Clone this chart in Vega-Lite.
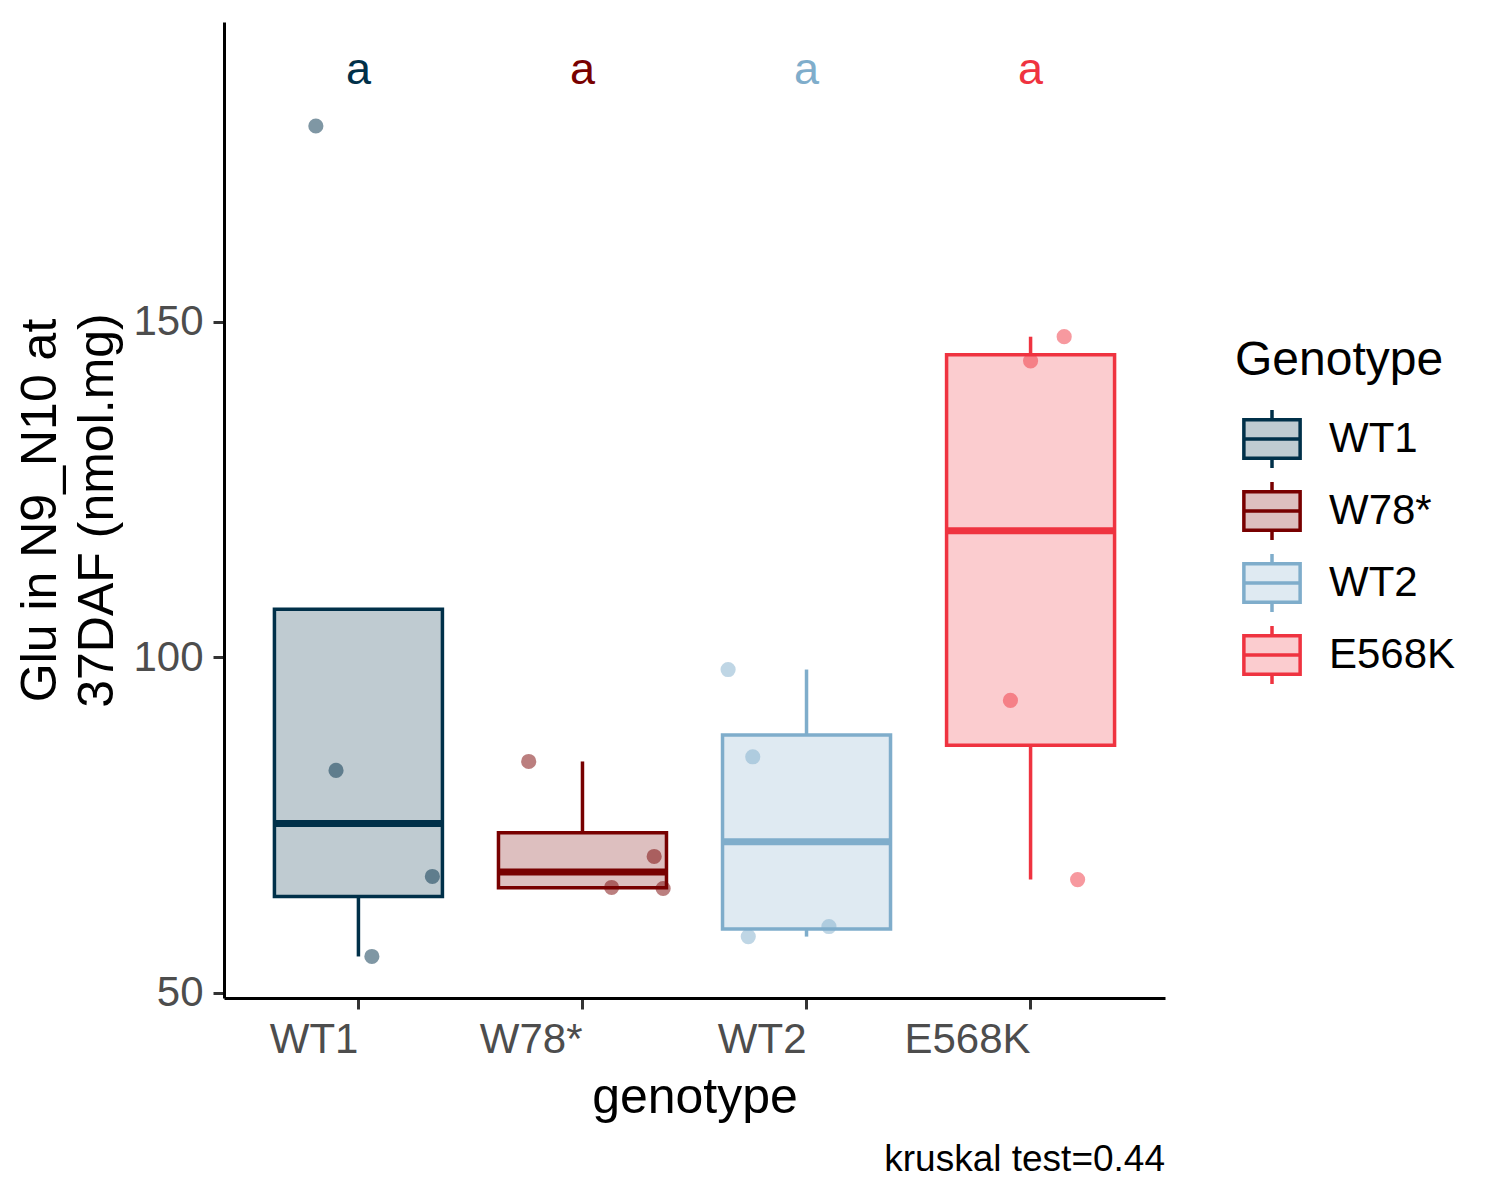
{
  "$schema": "https://vega.github.io/schema/vega-lite/v6.json",
  "width": 941,
  "height": 976,
  "autosize": {"type": "none"},
  "padding": {"left": 224, "top": 22, "right": 335, "bottom": 202},
  "background": "white",
  "title": {
    "text": "kruskal test=0.44",
    "orient": "bottom",
    "anchor": "end",
    "frame": "group",
    "fontSize": 37,
    "fontWeight": "normal",
    "color": "black",
    "offset": 20
  },
  "datasets": {
    "points": [
      {"genotype": "WT1", "value": 179.2, "jitter": -0.19},
      {"genotype": "WT1", "value": 83.16, "jitter": -0.10},
      {"genotype": "WT1", "value": 67.36, "jitter": 0.33},
      {"genotype": "WT1", "value": 55.44, "jitter": 0.06},
      {"genotype": "W78*", "value": 84.5, "jitter": -0.24},
      {"genotype": "W78*", "value": 70.34, "jitter": 0.32},
      {"genotype": "W78*", "value": 65.72, "jitter": 0.13},
      {"genotype": "W78*", "value": 65.57, "jitter": 0.36},
      {"genotype": "WT2", "value": 98.2, "jitter": -0.35},
      {"genotype": "WT2", "value": 85.2, "jitter": -0.24},
      {"genotype": "WT2", "value": 58.4, "jitter": -0.26},
      {"genotype": "WT2", "value": 59.9, "jitter": 0.10},
      {"genotype": "E568K", "value": 147.8, "jitter": 0.15},
      {"genotype": "E568K", "value": 144.2, "jitter": 0.0},
      {"genotype": "E568K", "value": 93.6, "jitter": -0.09},
      {"genotype": "E568K", "value": 66.9, "jitter": 0.21}
    ],
    "letters": [
      {"genotype": "WT1", "label": "a", "y": 187.5},
      {"genotype": "W78*", "label": "a", "y": 187.5},
      {"genotype": "WT2", "label": "a", "y": 187.5},
      {"genotype": "E568K", "label": "a", "y": 187.5}
    ]
  },
  "config": {
    "font": "Liberation Sans",
    "view": {"stroke": null},
    "axis": {
      "grid": false,
      "domainColor": "black",
      "domainWidth": 3,
      "tickColor": "#333333",
      "tickWidth": 3,
      "tickSize": 11,
      "labelColor": "#4d4d4d",
      "labelFontSize": 42,
      "titleFontSize": 50,
      "titleFontWeight": "normal",
      "titleColor": "black"
    },
    "legend": {
      "titleFontSize": 48,
      "titleFontWeight": "normal",
      "titleColor": "black",
      "titleLimit": 400,
      "labelFontSize": 42,
      "labelColor": "black",
      "labelLimit": 300,
      "symbolType": "M-0.97,-0.66H0.97V0.66H-0.97Z M-0.97,0H0.97 M0,-1V-0.66 M0,0.66V1",
      "symbolSize": 3364,
      "symbolStrokeWidth": 3.5,
      "symbolOffset": 6,
      "rowPadding": 0,
      "labelOffset": 26,
      "titlePadding": 23,
      "padding": 0
    }
  },
  "encoding": {
    "x": {
      "field": "genotype",
      "type": "nominal",
      "scale": {"domain": ["WT1", "W78*", "WT2", "E568K"], "paddingInner": 0, "paddingOuter": 0.1},
      "axis": {
        "title": "genotype",
        "labelAngle": 0,
        "labelAlign": "right",
        "labelBaseline": "top",
        "labelPadding": 10,
        "titlePadding": 12
      }
    }
  },
  "layer": [
    {
      "data": {"name": "points"},
      "transform": [
        {
          "joinaggregate": [
            {"op": "q1", "field": "value", "as": "q1"},
            {"op": "median", "field": "value", "as": "med"},
            {"op": "q3", "field": "value", "as": "q3"}
          ],
          "groupby": ["genotype"]
        },
        {"filter": "datum.value >= datum.q1 - 1.5 * (datum.q3 - datum.q1) && datum.value <= datum.q3 + 1.5 * (datum.q3 - datum.q1)"},
        {
          "aggregate": [
            {"op": "min", "field": "value", "as": "lo"},
            {"op": "max", "field": "value", "as": "hi"},
            {"op": "max", "field": "q1", "as": "q1"},
            {"op": "max", "field": "med", "as": "med"},
            {"op": "max", "field": "q3", "as": "q3"}
          ],
          "groupby": ["genotype"]
        },
        {"calculate": "min(datum.lo, datum.q1)", "as": "lower"},
        {"calculate": "max(datum.hi, datum.q3)", "as": "upper"}
      ],
      "layer": [
        {
          "mark": {"type": "rule", "strokeWidth": 3.5},
          "encoding": {
            "y": {"field": "lower", "type": "quantitative", "title": ["Glu in N9_N10 at", "37DAF (nmol.mg)"], "scale": {"domain": [49.25, 194.7], "nice": false, "zero": false},
              "axis": {"values": [50, 100, 150], "labelPadding": 10, "titlePadding": 10, "titleLineHeight": 57}},
            "y2": {"field": "q1"},
            "stroke": {"field": "genotype", "type": "nominal",
              "scale": {"domain": ["WT1", "W78*", "WT2", "E568K"], "range": ["#003049", "#780000", "#7FADCB", "#EF3340"]},
              "legend": {"title": "Genotype", "orient": "none", "legendX": 1011, "legendY": 315,
                "encode": {"symbols": {"update": {"fillOpacity": {"value": 0.25}, "strokeOpacity": {"value": 1}, "opacity": {"value": 1}}}}}}
          }
        },
        {
          "mark": {"type": "rule", "strokeWidth": 3.5},
          "encoding": {
            "y": {"field": "q3", "type": "quantitative", "title": ["Glu in N9_N10 at", "37DAF (nmol.mg)"], "scale": {"domain": [49.25, 194.7], "nice": false, "zero": false}},
            "y2": {"field": "upper"},
            "stroke": {"field": "genotype", "type": "nominal",
              "scale": {"domain": ["WT1", "W78*", "WT2", "E568K"], "range": ["#003049", "#780000", "#7FADCB", "#EF3340"]},
              "legend": {"title": "Genotype", "orient": "none", "legendX": 1011, "legendY": 315,
                "encode": {"symbols": {"update": {"fillOpacity": {"value": 0.25}, "strokeOpacity": {"value": 1}, "opacity": {"value": 1}}}}}}
          }
        },
        {
          "mark": {"type": "bar", "width": 168, "fillOpacity": 0.25, "strokeWidth": 3.5},
          "encoding": {
            "y": {"field": "q1", "type": "quantitative", "title": ["Glu in N9_N10 at", "37DAF (nmol.mg)"], "scale": {"domain": [49.25, 194.7], "nice": false, "zero": false}},
            "y2": {"field": "q3"},
            "fill": {"field": "genotype", "type": "nominal",
              "scale": {"domain": ["WT1", "W78*", "WT2", "E568K"], "range": ["#003049", "#780000", "#7FADCB", "#EF3340"]},
              "legend": {"title": "Genotype", "orient": "none", "legendX": 1011, "legendY": 315,
                "encode": {"symbols": {"update": {"fillOpacity": {"value": 0.25}, "strokeOpacity": {"value": 1}, "opacity": {"value": 1}}}}}},
            "stroke": {"field": "genotype", "type": "nominal",
              "scale": {"domain": ["WT1", "W78*", "WT2", "E568K"], "range": ["#003049", "#780000", "#7FADCB", "#EF3340"]},
              "legend": {"title": "Genotype", "orient": "none", "legendX": 1011, "legendY": 315,
                "encode": {"symbols": {"update": {"fillOpacity": {"value": 0.25}, "strokeOpacity": {"value": 1}, "opacity": {"value": 1}}}}}}
          }
        },
        {
          "mark": {"type": "tick", "size": 168, "thickness": 7, "opacity": 1},
          "encoding": {
            "y": {"field": "med", "type": "quantitative", "title": ["Glu in N9_N10 at", "37DAF (nmol.mg)"], "scale": {"domain": [49.25, 194.7], "nice": false, "zero": false}},
            "fill": {"field": "genotype", "type": "nominal",
              "scale": {"domain": ["WT1", "W78*", "WT2", "E568K"], "range": ["#003049", "#780000", "#7FADCB", "#EF3340"]},
              "legend": {"title": "Genotype", "orient": "none", "legendX": 1011, "legendY": 315,
                "encode": {"symbols": {"update": {"fillOpacity": {"value": 0.25}, "strokeOpacity": {"value": 1}, "opacity": {"value": 1}}}}}}
          }
        }
      ]
    },
    {
      "data": {"name": "points"},
      "mark": {"type": "circle", "size": 230, "opacity": 0.5},
      "encoding": {
        "xOffset": {"field": "jitter", "type": "quantitative", "scale": {"domain": [-0.5, 0.5]}},
        "y": {"field": "value", "type": "quantitative", "title": ["Glu in N9_N10 at", "37DAF (nmol.mg)"], "scale": {"domain": [49.25, 194.7], "nice": false, "zero": false}},
        "fill": {"field": "genotype", "type": "nominal",
          "scale": {"domain": ["WT1", "W78*", "WT2", "E568K"], "range": ["#003049", "#780000", "#7FADCB", "#EF3340"]},
          "legend": {"title": "Genotype", "orient": "none", "legendX": 1011, "legendY": 315,
            "encode": {"symbols": {"update": {"fillOpacity": {"value": 0.25}, "strokeOpacity": {"value": 1}, "opacity": {"value": 1}}}}}}
      }
    },
    {
      "data": {"name": "letters"},
      "mark": {"type": "text", "fontSize": 45, "baseline": "middle"},
      "encoding": {
        "y": {"field": "y", "type": "quantitative", "title": ["Glu in N9_N10 at", "37DAF (nmol.mg)"], "scale": {"domain": [49.25, 194.7], "nice": false, "zero": false}},
        "text": {"field": "label"},
        "fill": {"field": "genotype", "type": "nominal",
          "scale": {"domain": ["WT1", "W78*", "WT2", "E568K"], "range": ["#003049", "#780000", "#7FADCB", "#EF3340"]},
          "legend": {"title": "Genotype", "orient": "none", "legendX": 1011, "legendY": 315,
            "encode": {"symbols": {"update": {"fillOpacity": {"value": 0.25}, "strokeOpacity": {"value": 1}, "opacity": {"value": 1}}}}}}
      }
    }
  ]
}
